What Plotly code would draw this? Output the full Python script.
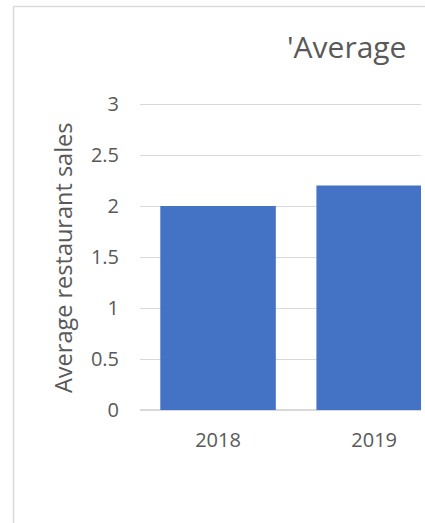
import plotly.graph_objects as go

# Data
years = ["2018", "2019"]
avg_sales = [2.0, 2.2]
y_ticks = [0, 0.5, 1, 1.5, 2, 2.5, 3]
y_tick_labels = ["0", "0.5", "1", "1.5", "2", "2.5", "3"]
title_text = "'Average"
y_title = "Average restaurant sales"

W, H = 425, 523
L, R, T, B = 140, 4, 103, 113
FONT = "Open Sans"
GREY = "#595959"
GRID = "#d9d9d9"
Y_MAX = 3.01

fig = go.Figure(
    go.Bar(
        x=years,
        y=avg_sales,
        marker=dict(color="#4472C4", line=dict(width=0)),
        hoverinfo="x+y",
    )
)

pw = W - L - R
ph = H - T - B


def px_to_paper_x(px):
    return (px - L) / pw


def px_to_paper_y(py):
    return (H - B - py) / ph


fig.update_layout(
    width=W,
    height=H,
    margin=dict(l=L, r=R, t=T, b=B, pad=0),
    paper_bgcolor="white",
    plot_bgcolor="white",
    showlegend=False,
    bargap=0.26,
    font=dict(family=FONT, color=GREY),
    xaxis=dict(
        type="category",
        range=[-0.5, 1.3],
        showgrid=False,
        showline=False,
        zeroline=False,
        ticks="",
        tickfont=dict(size=20, color=GREY),
        ticklabelstandoff=16,
        fixedrange=True,
    ),
    yaxis=dict(
        range=[0, Y_MAX],
        tickvals=y_ticks,
        ticktext=y_tick_labels,
        showgrid=True,
        gridcolor=GRID,
        gridwidth=1,
        zeroline=True,
        zerolinecolor=GRID,
        zerolinewidth=2,
        showline=False,
        ticks="",
        tickfont=dict(size=20, color=GREY),
        ticklabelstandoff=20,
        fixedrange=True,
    ),
    annotations=[
        dict(
            text=title_text,
            xref="paper", yref="paper",
            x=px_to_paper_x(285), y=px_to_paper_y(47),
            xanchor="left", yanchor="middle",
            showarrow=False,
            font=dict(size=30, color=GREY, family=FONT),
        ),
        dict(
            text=y_title,
            xref="paper", yref="paper",
            x=px_to_paper_x(63), y=px_to_paper_y(258),
            xanchor="center", yanchor="middle",
            textangle=-90,
            showarrow=False,
            font=dict(size=23.5, color=GREY, family=FONT),
        ),
    ],
    shapes=[
        # chart frame (left and top edges)
        dict(type="line", xref="paper", yref="paper",
             x0=px_to_paper_x(13.5), x1=px_to_paper_x(13.5),
             y0=px_to_paper_y(6.5), y1=px_to_paper_y(530),
             line=dict(color=GRID, width=1.5)),
        dict(type="line", xref="paper", yref="paper",
             x0=px_to_paper_x(13.5), x1=px_to_paper_x(440),
             y0=px_to_paper_y(6.5), y1=px_to_paper_y(6.5),
             line=dict(color=GRID, width=1.5)),
    ],
)

fig.write_html("out.html")
